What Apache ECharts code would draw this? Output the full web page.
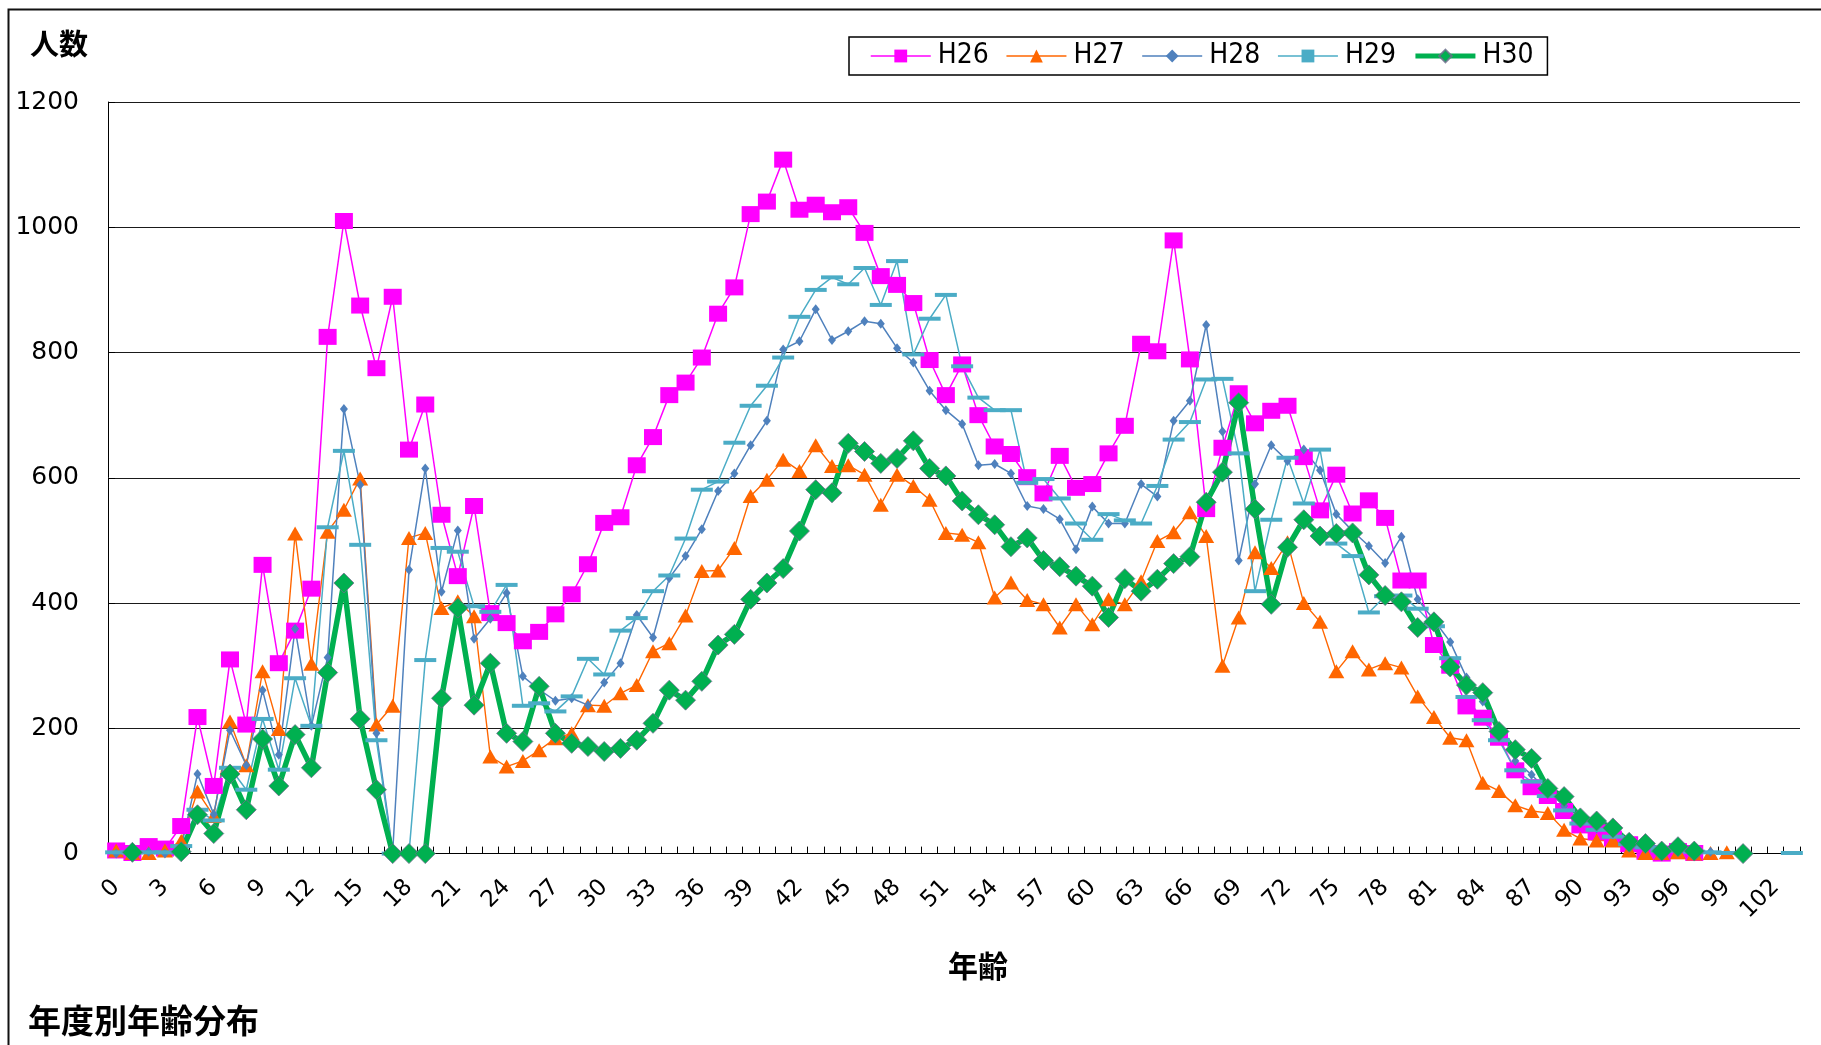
<!DOCTYPE html>
<html>
<head>
<meta charset="utf-8">
<script src="https://cdn.jsdelivr.net/npm/echarts@6/dist/echarts.min.js"></script>
<style>
html,body{margin:0;padding:0;background:#fff;}
#c{width:1821px;height:1045px;}
</style>
</head>
<body>
<div id="c"></div>
<script>
const ages = ["0","1","2","3","4","5","6","7","8","9","10","11","12","13","14","15","16","17","18","19","20","21","22","23","24","25","26","27","28","29","30","31","32","33","34","35","36","37","38","39","40","41","42","43","44","45","46","47","48","49","50","51","52","53","54","55","56","57","58","59","60","61","62","63","64","65","66","67","68","69","70","71","72","73","74","75","76","77","78","79","80","81","82","83","84","85","86","87","88","89","90","91","92","93","94","95","96","97","98","99","100","101","102","103"];

const seriesNames = ["H26","H27","H28","H29","H30"];

const h26 = [5,1,12,8,44,218,108,310,206,461,
304,356,423,825,1010,875,775,889,645,717,
541,443,555,384,368,339,354,382,414,462,
528,537,620,665,732,752,792,862,904,1021,
1041,1108,1028,1036,1024,1032,991,922,908,879,
788,732,781,700,650,638,601,575,635,584,
590,639,683,814,802,979,789,550,648,735,
687,707,715,633,548,605,543,564,536,436,
436,333,300,235,217,185,133,106,92,68,
45,34,24,15,3,0,4,1,null,null,
null,null,null,null];

const h27 = [5,1,1,5,20,99,60,211,141,291,
199,511,303,514,549,599,206,236,504,512,
392,403,379,155,139,148,165,184,192,237,
236,256,269,323,336,380,451,452,488,571,
597,629,611,652,619,620,605,557,605,587,
565,512,509,497,409,433,405,398,361,398,
366,406,398,435,499,513,545,507,300,377,
481,456,497,400,370,291,323,294,304,297,
251,218,185,181,113,100,77,68,65,38,
24,21,21,5,1,1,2,0,1,2,
null,null,null,null];

const h28 = [0,0,3,0,10,127,63,197,141,261,
158,359,204,313,710,589,192,3,453,615,
418,516,343,375,416,283,262,244,248,237,
273,304,381,345,440,475,518,579,607,652,
691,805,818,869,820,834,850,846,807,784,
739,708,686,620,622,607,555,550,534,486,
554,527,527,590,570,691,723,844,674,468,
590,652,627,645,612,542,515,491,464,506,
406,373,338,281,243,201,148,126,100,76,
52,40,30,20,10,5,6,3,3,null,
null,null,null,null];

const h29 = [2,2,2,2,12,70,53,137,102,215,
134,280,204,521,643,493,181,0,0,309,
488,482,395,386,429,236,240,227,251,311,
286,356,376,419,444,503,581,594,656,715,
747,792,857,900,920,909,935,876,946,797,
854,892,778,728,708,708,592,598,567,527,
501,542,532,527,587,661,689,757,758,639,
419,533,632,559,645,495,475,385,411,412,
391,363,312,250,213,181,133,115,92,69,
48,38,27,15,10,5,5,3,2,1,
null,null,null,1];

const h30 = [null,2,null,null,3,62,32,127,70,183,
108,190,137,289,432,215,102,0,0,0,
248,392,237,304,192,179,267,192,176,171,
163,168,181,208,261,245,275,333,350,406,
432,455,515,581,576,655,642,623,631,659,
615,603,563,541,525,490,504,468,458,443,
427,377,439,419,438,463,474,561,609,720,
550,398,489,533,507,511,512,445,412,402,
361,370,298,269,257,195,166,152,104,91,
57,52,41,18,16,4,11,4,null,null,
0,null,null,null];

const yTicks = [0,200,400,600,800,1000,1200];
const yAxisTitle = "人数";
const xAxisTitle = "年齢";
const chartCaption = "年度別年齢分布";

const numFont = "'DejaVu Sans', 'Liberation Sans', sans-serif";
const legendFont = "'Liberation Sans Narrow', 'DejaVu Sans Condensed', 'Liberation Sans', sans-serif";
const cjkFont = "'Noto Sans CJK JP', 'Noto Sans CJK SC', sans-serif";

const lineWidths = [1.5, 1.4, 1.5, 1.5, 5.5];

const chart = echarts.init(document.getElementById('c'), null, {renderer: 'canvas'});

chart.setOption({
  backgroundColor: '#ffffff',
  animation: false,
  grid: {left: 108, right: 21, top: 102, bottom: 191.4, containLabel: false},
  legend: {
    left: 849, top: 37,
    data: seriesNames.map(function (n, i) { return {name: n, lineStyle: {width: Math.min(lineWidths[i], 5)}}; }),
    itemWidth: 60, itemHeight: 16, itemGap: 17,
    padding: [5, 14, 5, 21],
    borderColor: '#000', borderWidth: 1.5,
    textStyle: {fontFamily: legendFont, fontSize: 28, color: '#000', padding: [0,0,0,2]}
  },
  xAxis: {
    type: 'category',
    data: ages,
    boundaryGap: true,
    axisLine: {show: true, lineStyle: {color: '#000', width: 1}},
    axisTick: {show: true, inside: true, length: 7, interval: 0, alignWithLabel: false, lineStyle: {color: '#000'}},
    axisLabel: {interval: 2, rotate: 45, margin: 30, fontFamily: numFont, fontSize: 23, color: '#000'},
    splitLine: {show: false}
  },
  yAxis: {
    type: 'value',
    min: yTicks[0], max: yTicks[yTicks.length-1], interval: 200,
    axisLine: {show: true, lineStyle: {color: '#000', width: 1}},
    axisTick: {show: true, inside: true, length: 7, lineStyle: {color: '#000'}},
    axisLabel: {margin: 29, fontFamily: numFont, fontSize: 25, color: '#000', formatter: function (v) { return String(v); }},
    splitLine: {show: true, lineStyle: {color: '#1a1a1a', width: 1}}
  },
  series: [
    {name: seriesNames[0], type: 'line', data: h26, symbol: 'rect', symbolSize: [18, 16], showAllSymbol: true,
     lineStyle: {color: '#FF00FF', width: lineWidths[0]}, itemStyle: {color: '#FF00FF'}, connectNulls: false},
    {name: seriesNames[1], type: 'line', data: h27, symbol: 'triangle', symbolSize: [16, 14], showAllSymbol: true,
     lineStyle: {color: '#FF6600', width: lineWidths[1]}, itemStyle: {color: '#FF6600'}, connectNulls: false},
    {name: seriesNames[2], type: 'line', data: h28, symbol: 'diamond', symbolSize: [8, 10], showAllSymbol: true,
     lineStyle: {color: '#4F81BD', width: lineWidths[2]}, itemStyle: {color: '#4F81BD'}, connectNulls: false},
    {name: seriesNames[3], type: 'line', data: h29, symbol: 'rect', symbolSize: [22, 4], showAllSymbol: true,
     lineStyle: {color: '#4BACC6', width: lineWidths[3]}, itemStyle: {color: '#4BACC6'}, connectNulls: false},
    {name: seriesNames[4], type: 'line', data: h30, symbol: 'diamond', symbolSize: [20, 20], showAllSymbol: true,
     lineStyle: {color: '#00B050', width: lineWidths[4]}, itemStyle: {color: '#00B050', borderColor: 'rgba(110,110,140,0.8)', borderWidth: 1}, connectNulls: false}
  ],
  graphic: [
    {type: 'rect', silent: true, z: -1,
     shape: {x: 8.5, y: 9.5, width: 1900, height: 1100},
     style: {fill: 'none', stroke: '#111', lineWidth: 2}},
    {type: 'text', x: 30, y: 44,
     style: {text: yAxisTitle, font: "bold 29px " + cjkFont, fill: '#000', align: 'left', verticalAlign: 'middle', textAlign: 'left', textVerticalAlign: 'middle'}},
    {type: 'text', x: 978, y: 966,
     style: {text: xAxisTitle, font: "bold 30px " + cjkFont, fill: '#000', align: 'center', verticalAlign: 'middle', textAlign: 'center', textVerticalAlign: 'middle'}},
    {type: 'text', x: 28, y: 1020,
     style: {text: chartCaption, font: "bold 33px " + cjkFont, fill: '#000', align: 'left', verticalAlign: 'middle', textAlign: 'left', textVerticalAlign: 'middle'}}
  ]
});
</script>
</body>
</html>
